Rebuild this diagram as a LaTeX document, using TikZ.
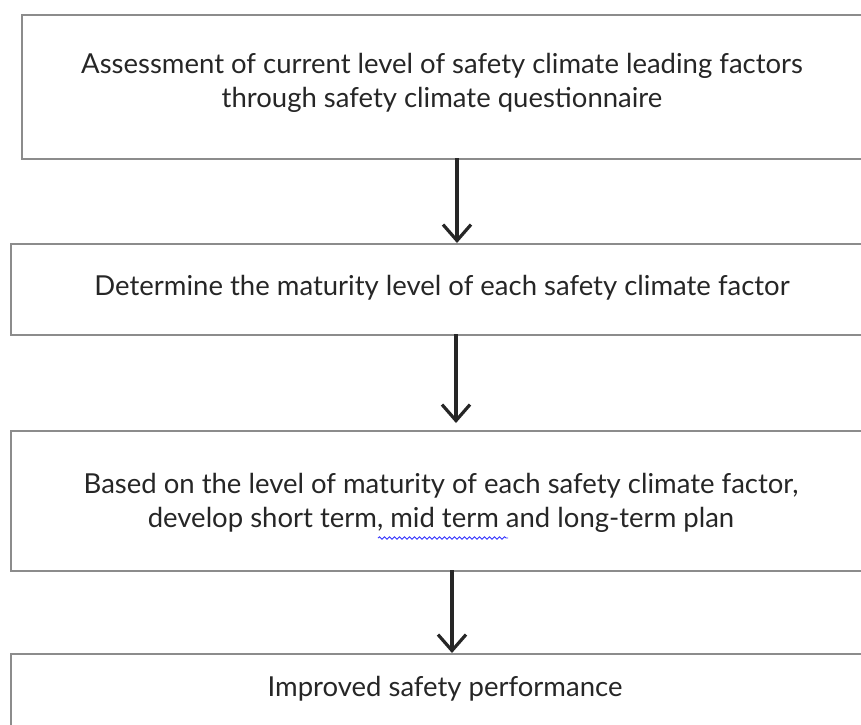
\documentclass[tikz,border=0pt]{standalone}
\usepackage{fontspec}
\setmainfont{Lato}
\usetikzlibrary{arrows.meta,decorations.pathmorphing}
\begin{document}
\begin{tikzpicture}[x=1pt,y=-1pt,
  box/.style={draw=black!45,line width=1.6pt,rectangle,inner sep=0pt},
  lbl/.style={font=\fontsize{27.5}{34}\selectfont,align=center,text=black!85},
  flow/.style={line width=3.4pt,black!85,-{Straight Barb[length=16pt,width=28pt,line width=3.2pt]}}]
\useasboundingbox (0,0) rectangle (861,724);
\clip (0,0) rectangle (861,724);
\node[box,minimum width=859pt,minimum height=144pt,anchor=north west] (b1) at (21,14) {};
\node[box,minimum width=870pt,minimum height=91pt,anchor=north west] (b2) at (10,243) {};
\node[box,minimum width=870pt,minimum height=140pt,anchor=north west] (b3) at (10,430) {};
\node[box,minimum width=870pt,minimum height=140pt,anchor=north west] (b4) at (10,653) {};
\node[lbl] (t1) at (442,83) {Assessment of current level of safety climate leading factors\\through safety climate questionnaire};
\node[lbl] (t2) at (442,288) {Determine the maturity level of each safety climate factor};
\node[lbl] (t3) at (441,503) {Based on the level of maturity of each safety climate factor,\\develop short term, mid term and long-term plan};
\node[lbl] (t4) at (445,689) {Improved safety performance};
\coordinate (a1s) at (457,158);
\coordinate (a1e) at (457,243);
\coordinate (a2s) at (456,334);
\coordinate (a2e) at (456,423);
\coordinate (a3s) at (452,570);
\coordinate (a3e) at (452,653);
\draw[flow] (a1s) -- (a1e);
\draw[flow] (a2s) -- (a2e);
\draw[flow] (a3s) -- (a3e);
\coordinate (w1) at (378,538);
\coordinate (w2) at (508,538);
\draw[blue!80,line width=0.9pt,decorate,decoration={snake,amplitude=1.2pt,segment length=5pt}] (w1) -- (w2);
\end{tikzpicture}
\end{document}
